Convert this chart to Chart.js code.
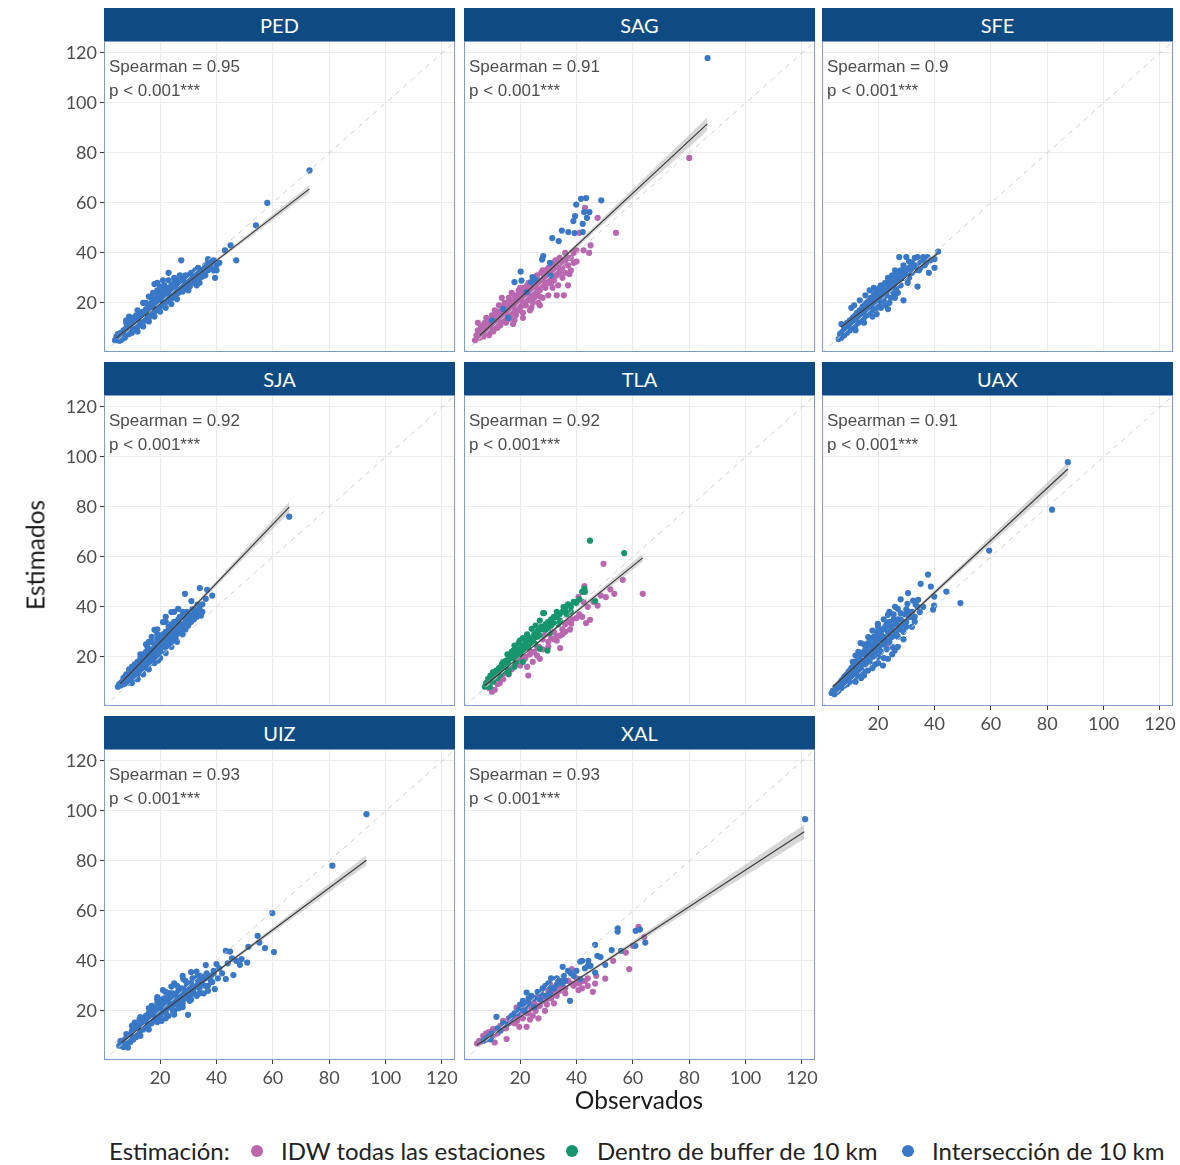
<!DOCTYPE html>
<html>
<head>
<meta charset="utf-8">
<title>Estimados vs Observados</title>
<script src="https://cdn.jsdelivr.net/npm/chart.js@4/dist/chart.umd.min.js"></script>
<style>
  body { margin:0; background:#fff; width:1180px; height:1165px; position:relative; overflow:hidden; font-family:Lato, sans-serif; }
  .strip { position:absolute; width:351px; height:33px; background:#0e4b82; color:#fff; font:20px Lato, sans-serif;
           display:flex; align-items:center; justify-content:center; }
  canvas { position:absolute; }
  .title { position:absolute; font:24.5px Lato, sans-serif; color:#1a1a1a; white-space:nowrap; }
  .leg { position:absolute; font:24px Lato, sans-serif; color:#222; white-space:nowrap; top:1136px; }
  .dot { position:absolute; width:12px; height:12px; border-radius:50%; top:1145px; }
</style>
</head>
<body>
<div id="root"></div>
<script>
// ---- shared labels and axis ticks ----
const stations = ['PED','SAG','SFE','SJA','TLA','UAX','UIZ','XAL'];
const spearman = ['0.95','0.91','0.9','0.92','0.92','0.91','0.93','0.93'];
const pLabel = 'p < 0.001***';
const tickValues = [20, 40, 60, 80, 100, 120];
const categories = ['IDW todas las estaciones', 'Dentro de buffer de 10 km', 'Intersección de 10 km'];
const catColors = ['#b968b0', '#17966e', '#3878c6'];
const identityLine = [[0, 0], [130, 130]];

// ---- observed / estimated pairs per station and estimation method ----
const pedIdw = [];
const pedBuffer = [];
const pedInter = [[4,5],[4.5,6.5],[5,5.5],[5,7.5],[5.5,4.8],[6,6],[6,8],[6.5,5.5],[6.5,7],[7,6.5],[7,9],[7.5,6],[7.5,8],[8,7],[8,10],[8,12],[8.5,8.5],[9,7.5],[9,9.5],[9,14.5],[9.5,11],[10,8],[10,10],[10,12.5],[10.5,9.5],[11,11],[11,13],[11.5,10],[11.5,15],[12,12],[12,14],[12.5,11],[12.5,16],[13,13],[13,15],[13.5,12],[14,14],[14,16.5],[14.5,13],[15,15],[15,17.5],[15.5,14],[16,16],[16,19],[16.5,15],[17,17],[17,20],[17.5,16],[17.5,24],[18,18],[18,21],[18,27.5],[18.5,17],[19,19],[19,22],[19,25],[19.5,18],[20,20],[20,23],[20,26.5],[20.5,19],[21,21],[21,24],[21.5,20],[21.5,27],[22,22],[22,25],[22.5,20.5],[23,23],[23,26],[23,29],[23,32],[23.5,21.5],[24,24],[24,27],[24.5,22],[25,25],[25,28],[25.5,23],[26,26],[26,29],[26.5,24],[27,27],[27,25],[27.5,37],[28,28],[28,26],[28.5,30],[29,27],[29,29.5],[29.5,25.5],[30,28],[30,31],[30.5,26.5],[31,29],[31,32],[32,30],[32,28],[32.5,33],[33,31],[33.5,34],[34,30],[34,28],[35,32],[35.5,33.5],[36,31],[36,35],[37,37.5],[37,33],[38,34],[39,33],[39.5,30],[40,35],[41,36],[43,41],[45,43],[47,37],[54,51],[58,60],[73,73],
  [5,6],[5.5,7],[6,5],[7,7],[8,8],[9,8.5],[9.5,9],[10,11],[10.5,11],[11,9.5],[11.5,12],[12,10.5],[12.5,13],[13,11.5],[13.5,14],[14,12.5],[14.5,15.5],[15,13.5],[15.5,16.5],[16,14],[16.5,17.5],[17,15.5],[17,18.5],[17.5,19],[18,16.5],[18.5,20],[19,17.5],[19.5,21],[20,18.5],[20.5,22],[21,19.5],[21.5,23],[22,20.5],[22.5,24],[23,21],[23.5,25],[24,22.5],[24.5,26],[25,23.5],[25.5,27],[26,24.5],[26.5,28],[27,26],[27.5,29],[28,24.5],[28.5,27],[29,31],[30,29.5],[31,30.5],[31.5,28],[32,31.5],[33,29],[33,33],[34,32.5],[35,30.5],[36,33],[37,36],[38,36],[39,37],[40,33],[21,29],[19,28],[16,22.5],[14,20],[12,17],
  [8,13],[10,14],[12,8.5],[14,10.5],[16,12.5],[18,14.5],[20,16.5],[22,18],[24,19.5],[15,20],[17,22],[19,23.5],[21,25.5],[25,30],[27,31],[30,25],[33,27],[26,21.5]];

const sagIdw = [[4,5],[4.5,7],[5,9],[5,12],[5.5,6],[6,8],[6.5,10],[7,6.5],[7,9],[7.5,12],[8,8],[8,14],[8.5,10],[9,7],[9,12],[9.5,9],[10,11],[10,15],[10.5,8.5],[11,13],[11,17],[11.5,10],[12,12],[12,15],[12.5,19],[13,11],[13,14],[13.5,22],[14,13],[14,17],[14.5,20],[15,15],[15,12],[15.5,18],[16,22],[16,16],[16.5,14],[17,19],[17,24],[17.5,11.5],[18,17],[18,21],[18.5,15],[19,20],[19,23],[19.5,17],[20,22],[20,18],[20,26],[20.5,20],[21,24],[21,16],[21.5,21],[22,23],[22,19],[22.5,27],[23,25],[23,21],[23.5,17],[24,24],[24,28],[24.5,20],[25,26],[25,22],[25.5,30],[26,27],[26,24],[26.5,20],[27,29],[27,25],[27.5,32],[28,27],[28,22],[28.5,30],[29,33],[29,26],[30,28],[30,31],[30,23],[31,35],[31,30],[31.5,26],[32,33],[32,29],[32.5,37],[33,31],[33,23],[33.5,27],[34,34],[34,38],[35,30],[35,36],[35.5,23],[36,40],[36,32],[37,35],[37,27],[37.5,31.5],[38,38],[38,33],[39,36],[39,40],[40,41],[40,36.5],[41,48],[42.5,41],[43,58],[44.5,40],[45,43],[47.5,54],[54,48],[80,78],
  [5,7],[6,6.5],[6,11],[7,8],[7.5,10],[8,9.5],[8.5,12.5],[9,10.5],[9.5,13],[10,9],[10,12.5],[11,11],[11,15],[12,13.5],[12,10],[12.5,16.5],[13,12.5],[13.5,15.5],[14,18.5],[14.5,14],[15,17],[15.5,20],[16,13.5],[16,18],[16.5,21],[17,16],[17.5,20],[18,23],[18,19],[18.5,17],[19,21.5],[19.5,25],[20,20],[20.5,23],[21,19],[21.5,26],[22,21],[22,25],[23,23],[23,28],[24,22],[24,26],[25,24],[25,29],[26,26],[26,31],[27,27],[27,22.5],[28,29],[28,33],[29,28],[29,31],[30,30],[30,34],[31,32],[32,31],[32,35],[33,33],[34,32],[35,34],[36,37],[37,38],[33,36],[31,28],[27,19],[24,18],[21,14],[18,13]];
const sagBuffer = [];
const sagInter = [[10,13],[14,17.5],[15.8,14],[18,28.3],[20.2,32.5],[20.5,28.9],[22.3,24.3],[23.9,28.3],[24.4,30.3],[25.4,29.3],[27.8,37.3],[28.2,38.7],[30.6,36],[30.8,30.9],[31.4,45.9],[33.7,44.7],[34.8,48.9],[37.1,48.3],[39.3,47.9],[38.9,52.7],[39.5,54.7],[39.9,59.3],[41.6,61.6],[43.4,61.9],[42.7,56.3],[44.6,56.3],[43.7,54],[42.2,51.6],[42.2,48.3],[48.8,61],[86.5,118]];

const sfeIdw = [[28,29.6]];
const sfeBuffer = [];
const sfeInter = [[6,5.5],[6.5,7.5],[7,6],[7,11.5],[7.5,8.5],[8,7],[8,10],[8.5,9],[9,8],[9,12],[9.5,10],[10,9],[10,13],[10.5,11],[10.5,18],[11,10],[11,14],[11.5,12],[11.5,19],[12,11],[12,15],[12.5,13],[13,12],[13,16],[13.5,14],[13.5,21],[14,13],[14,17],[14.5,15],[15,14],[15,18],[15.5,16],[15.5,23],[16,15],[16,20],[16.5,17],[17,16],[17,21],[17,25],[17.5,18],[18,17],[18,22],[18.5,20],[18.5,26],[19,19],[19,23],[19.5,18],[19.5,15.5],[20,21],[20,25],[20.5,20],[21,22],[21,27],[21.5,24],[22,21],[22,26],[22.5,19],[23,23],[23,28],[23.5,17.5],[24,25],[24,29.5],[24.5,22],[25,26],[25,31],[25.5,24],[26,28],[26,33],[26.5,26],[27,29],[27,24],[27.5,38.3],[28,30],[28,27],[28.5,32],[29,30],[29,21],[29.5,33],[30,31],[30,38.3],[30.5,28],[31,34],[31,30],[32,32],[32,36],[33,35],[33,38],[34,26.5],[34,38.3],[34.5,33],[35,36],[36,38.3],[36.5,35],[37.5,38.3],[38,32],[38.5,37],[40,34],[40,37.5],[41.3,40.5],
  [7,8],[8,8.5],[8.5,11],[9,9.5],[9.5,12],[10,10.5],[10.5,13],[11,12],[11.5,14.5],[12,13],[12.5,16],[13,14.5],[13.5,17],[14,15.5],[14.5,18.5],[15,16.5],[15.5,19.5],[16,17.5],[16.5,20.5],[17,19],[17.5,22],[18,19.5],[18.5,23.5],[19,21],[19.5,24.5],[20,22.5],[20.5,26],[21,24],[21.5,21.5],[22,24.5],[22.5,28],[23,25.5],[23.5,30],[24,27],[25,28.5],[26,30.5],[27,32],[28,33],[29,35],[30,33],[31,36.5],[32,34.5],[33,33],[35,34],[36,37],[37,36],[26,22],[24,20],[21,18],[18,14.5],[15,12],[12,9]];

const sjaIdw = [];
const sjaBuffer = [];
const sjaInter = [[5,8],[5.5,9],[6,8.5],[6.5,10],[7,9],[7,11.5],[7.5,10.5],[8,10],[8,13],[8.5,11.5],[8.5,9.5],[9,12],[9,15],[9.5,11],[9.5,13.5],[10,12.5],[10,16],[10.5,14],[10.5,11.5],[11,13],[11,17],[11.5,15],[11.9,11.2],[12,14],[12,18],[12.5,16],[13,15],[13,19.5],[13.5,17],[14,16],[14,21],[14.5,18],[15,17],[15,22],[15.5,19.5],[15.5,24],[16,18],[16,23],[16.5,21],[17,20],[17,26],[17.5,22],[18,21],[18,25],[18,30.8],[18.5,23],[19,22],[19,27],[19.3,18.5],[19.5,24.5],[20,23],[20,28],[20.4,27.9],[20.5,25.5],[21,24],[21,33.9],[21.5,27],[22,26],[22,30],[22.5,28],[23,27],[23,32],[23.5,29],[24,28],[24,37.9],[24.5,31],[25,30],[25,34],[25.5,27],[26,32],[26.4,39.2],[26.5,35],[27,30],[27.5,33],[28,36],[28,31],[28.8,45.2],[29,34],[29.5,38],[30,35],[30,32.5],[31,36],[31.1,42.3],[31.5,39],[32,37],[33,38],[33.3,40.9],[34.1,47.5],[34.5,36.5],[35,41],[36.2,43.2],[36.7,46.8],[38.5,44.5],[65.8,76.1],
  [6,9.5],[7,10],[7.5,12],[8,11],[9,10.5],[9,13.5],[10,11.5],[10,14],[11,14.5],[11,12],[12,15.5],[12,13],[13,14],[13,17],[14,18.5],[14,15],[15,16],[15,19.5],[16,21],[16,17],[17,18.5],[17,23],[18,20],[18,23],[19,21],[19,25],[20,22],[20,26],[21,25.5],[21,29],[22,24],[22,28],[23,25.5],[23,30],[24,26],[24,33],[25,28],[25,31],[26,29],[26,34],[27,32],[27,36],[28,33],[28,38],[29,31],[29,36],[30,37],[31,34],[32,35],[32,39],[33,36],[34,39],[35,38],[22,34],[19,29],[17,28],[15,25],
  [10,9.5],[12,11],[14,13],[16,15],[18,17.5],[20,19.5],[22,21.5],[24,24],[26,26],[13,21],[16,26],[19,31],[22,36],[25,38],[28,29]];

const tlaIdw = [[8,9.5],[10,6],[11,6.8],[12.8,9.5],[13,11.5],[14,13.2],[15,16],[16.4,20.5],[17,15],[19,17],[20,19],[21.7,19.2],[22.5,16],[22.9,12.5],[23.5,21],[24.5,18],[25,22],[26,24],[26.8,23.9],[27,19.2],[28,27],[29,29],[30,26],[31,27.5],[32,30],[33,26.5],[34.2,28.5],[34.2,23.5],[35,31],[36,33],[37.7,30.9],[38.1,33.2],[38.5,35],[39.5,41.9],[40.7,43.9],[41,37],[42,36],[42.5,41.9],[42.8,48.3],[43.4,33.5],[44.8,34.8],[47.5,40.5],[48.6,44.5],[49.6,57.2],[50.4,43.9],[53.4,45.2],[56.4,50.8],[63.5,45.2],
  [9,7.5],[12,9],[14,11],[16,13],[18,17],[20,16.5],[22,20],[24,22],[26,20.5],[28,23],[30,24],[32,27],[33,28.5],[35,29],[36,30],[37,34],[40,35.5],[44,40],[46,42],[52,47]];
const tlaBuffer = [[7.5,8],[8,9.5],[8.7,11.2],[9.3,7.9],[9.5,12.5],[10.4,13.9],[10.5,10],[11,12],[11.5,14.5],[12,11.5],[12.5,15.5],[13,13],[13.5,17],[14,17.9],[14,14.5],[14.5,16],[15,18.5],[15.5,21],[15.8,13.2],[16,17],[16.5,19.5],[17,22],[17.6,22.5],[18,20],[18,24.5],[18.5,18],[19,23],[19.5,25.5],[19.9,26.5],[20,21],[20.5,24],[21,27.5],[21.5,22.5],[22,26],[22.5,29],[23,24],[23.5,27.5],[24.1,31.2],[24.5,26.5],[25,29],[25.3,25.2],[25.5,32.5],[26,28],[26.5,30.5],[27,34.5],[27,23.2],[27.5,32],[28.2,37.5],[28.5,37.5],[29,31],[29.7,22.5],[30,34],[30.5,29.5],[31,32.5],[32,36],[33,35.9],[33.5,33],[34.2,34.5],[35,38],[35.4,39.9],[36,40],[36.5,37],[37,41],[38,40],[39,42],[40,41.5],[42.8,47.2],[43,46],[44.8,66.5],[46.6,42.3],[56.9,61.5],
  [9,10],[10,11.5],[11,13.5],[12,14],[13,15.5],[14,16],[15,17],[16,19],[17,19.5],[18,22],[19,20.5],[20,23],[21,24.5],[22,23.5],[23,27],[24,25.5],[25,27.5],[26,30],[27,28.5],[28,31],[29,33],[30,31.5],[31,35],[32,33.5],[33,38],[34,37],[36,38.5],[38,38],[41,43],[42,46],[21,18],[18,16],[16,14.5]];
const tlaInter = [];

const uaxIdw = [[22.9,24.5],[18.7,24]];
const uaxBuffer = [];
const uaxInter = [[3.5,5.5],[4,6.5],[4.5,5],[5,6],[5,8],[5.5,7],[6,6.5],[6,9],[6.5,8],[7,7.5],[7,10.5],[7.5,9],[8,8.5],[8,12],[8.5,10],[9,9],[9,13],[9.5,11],[10,10],[10,14.5],[10.5,12],[11,11],[11,16],[11.5,13],[12,12],[12,18],[12.5,14.5],[13,13],[13,20],[13.5,16],[13.8,25.5],[14,11.5],[14,15],[14.5,18],[15,22],[15,14],[15.5,17],[16,19],[16,24],[16.4,14.5],[16.5,27.9],[17,18],[17,21],[17.5,25],[18,20],[18,23],[18.5,28],[19,17],[19,22],[19,26],[19.5,30],[19.9,33.2],[20,20],[20,24],[20.5,27],[21,22],[21,29],[21.7,16.5],[22,25],[22,31],[22.5,27],[23,23],[23,33],[23.5,19.2],[23.5,36.8],[24,26],[24,29],[24.5,32],[25,28],[25,24],[25.5,35],[25.9,22.5],[26,30],[26.5,33],[27,39.2],[27,28],[27.5,31],[28,35],[28.5,33],[29,30],[29.5,37],[30,34],[30.4,41.2],[30.6,45.5],[31,38],[31.8,35.9],[32,32],[32.4,42.5],[33,36],[33.3,40.9],[34.2,42.8],[34.8,37.9],[35.1,49.2],[36,40],[37.7,52.9],[38.7,48.1],[39.5,38.9],[39.9,40.5],[39.9,44.1],[44.2,46.1],[49.2,41.5],[59.4,62.5],[81.7,78.9],[87.3,97.9],
  [4,5.5],[5,7],[5.5,6],[6,7.5],[6.5,9.5],[7,8.5],[7.5,11],[8,9.5],[8.5,12.5],[9,10.5],[9.5,14],[10,12],[10.5,15.5],[11,13],[11.5,16.5],[12,14],[12.5,17.5],[13,15],[13.5,19],[14,17],[14.5,21],[15,17.5],[15.5,23],[16,20.5],[16.5,25.5],[17,22],[17.5,27.5],[18,24.5],[18.5,22],[19,28],[19.5,25],[20,29],[20.5,24],[21,31],[21.5,27],[22,28],[22.5,32],[23,26],[23.5,30],[24,34],[24.5,28],[25,31],[25.5,37],[26,33],[26.5,29],[27,35],[28,31.5],[28,37.5],[29,34],[30,32],[30,39],[31,36],[32,38],[33,34],[34,40],[13,22],[12,20.5],[11,18],[15,25],[18,30.5],[20,32],[22,35],[24,38],[26,40],[28,43],[12,10],[15,12.5],[18,15.5],[20,17.5],[22,19.5],[25,21],[27,24],[29,27]];

const uizIdw = [];
const uizBuffer = [];
const uizInter = [[5.5,6],[6,7.5],[6.2,6.3],[6.8,7.6],[7,5.5],[7.5,8.5],[8,10.7],[8,7],[8.6,5.3],[9,9],[9.5,7.5],[10,10],[10,12],[10.5,8.5],[11,15.3],[11,11],[11.5,9.5],[12,13],[12.5,11],[12.7,16.7],[13,12],[13.5,14],[14,12.5],[14,16],[14.5,15],[15,13.5],[15,18],[15.5,16],[16,14.5],[16,19],[16.5,17],[16.9,20.7],[17,15],[17.5,18],[18,16.5],[18,21],[18.5,19],[19,17],[19,23],[19.5,20],[20,18],[20,22],[20.4,24.5],[20.5,16],[21,28.3],[21,20],[21.5,23],[22,19],[22,25],[22.5,21],[23,18],[23,24],[23.5,27],[24,29.7],[24,22],[24.5,20],[25,25],[25,18.5],[25.5,23],[26,27],[26.5,21],[27,25],[27.5,29],[28,23],[28.2,32.7],[28.5,27],[29,25],[29.5,30],[29.9,18.4],[30,28],[30.5,24],[31,31],[31.5,27],[32,29],[32.5,33],[32.9,35.7],[33,26],[33.5,31],[34,29],[34.5,34],[35,31],[35.5,27],[36,33],[36.2,38.3],[36.5,35],[37,30],[38,34],[38.5,31.5],[39,36],[39.4,28.7],[40,38.7],[40.5,33],[41,37],[42,35],[43.3,44],[43.3,32.7],[44,39],[44.8,43.7],[45.5,41],[46,34.3],[47,40],[48.3,38.4],[48.9,40.7],[50.9,39.3],[51.3,45.6],[54.6,50],[55.2,47.3],[57.2,45.1],[59.8,59.1],[60.4,43.5],[81.1,78.1],[93.2,98.7],
  [6,8],[7,7],[7.5,6],[8,9],[8.5,8],[9,10.5],[9.5,9],[10,11],[10.5,10],[11,12.5],[11.5,11],[12,14],[12.5,12.5],[13,15],[13.5,13],[14,17],[14.5,14],[15,16.5],[15.5,14.5],[16,18],[16.5,16],[17,19.5],[17.5,17],[18,20],[18.5,17.5],[19,21],[19.5,18.5],[20,23],[20.5,19.5],[21,22],[21.5,25],[22,20.5],[22.5,24],[23,22],[23.5,25.5],[24,23.5],[24.5,27],[25,22.5],[25.5,26],[26,24],[26.5,28],[27,22.5],[27.5,26.5],[28,28],[28.5,25],[29,29],[29.5,27],[30,31],[30.5,26],[31,29],[31.5,33],[32,27],[33,30],[33.5,34],[34,31.5],[35,33],[36,30],[37,34],[38,32],[39,35],[17,22],[19,24.5],[23,27],[26,30],[29,32],
  [10,14],[13,17.5],[16,21],[19,25.5],[22,27.5],[25,31],[28,34],[31,35.5],[13,10],[16,12.5],[19,15.5],[22,17],[25,20],[28,21.5],[31,24.5],[34,27],[37,28]];

const xalIdw = [[4.7,6.9],[5.5,8],[6.9,10],[7.5,8.5],[8,11],[9,9.5],[10.4,12.7],[11,7.3],[11,10.5],[12,12],[13,14],[14,16],[15.2,8.7],[15,13],[16,15],[17,17.5],[18,15],[18.7,21.3],[19,18],[19.7,13.6],[20,20],[21,17],[21.5,22],[22.3,13.6],[22.5,19],[23,24],[23.5,16.5],[24,21],[24.5,18],[25,23],[25.5,20],[26,25.5],[26.5,17],[27,22],[27.5,27],[28,24],[28.8,20],[29,26],[29.5,22.5],[30,28],[30.6,30.7],[31,25],[31.5,27],[32,23],[32.5,29.5],[33,26],[33.5,31],[34,28],[35,30],[36,27],[37,32],[38.3,36.7],[39,30],[40,33],[40.7,28.3],[41,31],[42,29],[43,32],[44,30],[45.8,27.6],[46.6,30.9],[47,34],[50.2,32.9],[53,40],[57.5,43.3],[58.7,36.7],[60,46],[62,53.6],[64,49.5],
  [6,7.5],[8,8.5],[9,11.5],[10,10],[12,11],[13,12.5],[14,13],[16,17],[17,15.5],[18,18],[19,16],[20,17.5],[21,20],[22,21.5],[23,19],[24,23],[25,21],[26,22],[27,25],[28,26],[29,24],[30,25],[31,29],[32,28],[33,28],[34,30],[35,32],[36,29],[38,31],[40,31],[42,32],[44,33]];
const xalBuffer = [];
const xalInter = [[7,8],[8,9],[9.5,8.5],[10,11],[11.6,17.6],[13,12],[15,14.5],[16.5,17],[18,19],[19.5,20.5],[20,22.5],[21,24],[21.5,20],[22.3,27.3],[23,23],[24,26],[25,21.5],[26.2,27.6],[27,24.5],[28,29],[29,26],[30,31],[30.5,27],[31,33],[32,29],[33,30.5],[34,32],[35.1,37.6],[35.5,34],[36,32],[37.7,24],[38,35],[39,34],[41.3,32.7],[41.3,39.7],[43,37],[44.2,40],[45,38],[46.6,35.3],[46.6,46.4],[47.4,42],[48.5,41.5],[50.2,38.4],[52.5,44.3],[54.6,51.7],[54.6,53],[55.8,44],[60.9,46],[61,52],[62.5,52.5],[64.4,47.3],[121.1,96.7],
  [9,10],[12,13],[14,15],[17,18],[19,19],[22,22],[23,25],[25,25],[27,27],[29,30],[31,29],[33,33],[35,31],[37,36],[40,36],[42,40],[44,38]];

// ---- linear fit (start, end) and its confidence band (x, lower, upper) ----
const pedFit = [[4.4,6.0],[73,65.6]];
const pedBand = [[4.4,5.3,6.7],[22,21.0,21.6],[73,64.1,67.1]];
const sagFit = [[5.7,6.9],[86.4,91.6]];
const sagBand = [[5.7,5.9,7.9],[22,23.5,24.5],[86.4,88.9,94.3]];
const sfeFit = [[6.9,10.3],[41,39.6]];
const sfeBand = [[6.9,9.6,11.0],[20,21.2,21.9],[41,38.8,40.4]];
const sjaFit = [[5.9,9.2],[65.8,79.9]];
const sjaBand = [[5.9,8.5,9.9],[18,23.2,23.8],[65.8,77.8,82.0]];
const tlaFit = [[7.5,8.5],[63.5,59.6]];
const tlaBand = [[7.5,7.4,9.6],[25,24.1,24.9],[63.5,58.0,61.2]];
const uaxFit = [[3.9,7.9],[87.3,95.2]];
const uaxBand = [[3.9,7.1,8.7],[18,22.3,23.0],[87.3,92.7,97.7]];
const uizFit = [[6.2,7.3],[93.2,80.3]];
const uizBand = [[6.2,6.6,8.0],[25,22.8,23.4],[93.2,78.3,82.3]];
const xalFit = [[4.7,6.3],[120.8,91.7]];
const xalBand = [[4.7,5.3,7.3],[28,23.0,23.8],[120.8,88.9,94.5]];

const pointsByStation = {
  PED: [pedIdw, pedBuffer, pedInter], SAG: [sagIdw, sagBuffer, sagInter],
  SFE: [sfeIdw, sfeBuffer, sfeInter], SJA: [sjaIdw, sjaBuffer, sjaInter],
  TLA: [tlaIdw, tlaBuffer, tlaInter], UAX: [uaxIdw, uaxBuffer, uaxInter],
  UIZ: [uizIdw, uizBuffer, uizInter], XAL: [xalIdw, xalBuffer, xalInter]
};
const fitByStation = { PED: pedFit, SAG: sagFit, SFE: sfeFit, SJA: sjaFit, TLA: tlaFit, UAX: uaxFit, UIZ: uizFit, XAL: xalFit };
const bandByStation = { PED: pedBand, SAG: sagBand, SFE: sfeBand, SJA: sjaBand, TLA: tlaBand, UAX: uaxBand, UIZ: uizBand, XAL: xalBand };

// ---- facet layout ----
const colLeft = [104, 464, 822];
const rowTop = [41, 395, 749];
const panelW = 351, panelH = 311, stripH = 33, yAxisW = 60, xAxisH = 36, rightPad = 20;
const xRange = [0.1, 124.6], yRange = [0.3, 124.8];
const xLabelled = ['UAX', 'UIZ', 'XAL'];

const root = document.getElementById('root');
const toXY = p => ({ x: p[0], y: p[1] });

const panelDecor = {
  id: 'panelDecor',
  afterDatasetsDraw(chart, args, opts) {
    const { ctx, chartArea: a } = chart;
    ctx.save();
    ctx.strokeStyle = '#7f9dcb';
    ctx.lineWidth = 1;
    ctx.strokeRect(a.left + 0.5, a.top + 0.5, a.right - a.left - 1, a.bottom - a.top - 1);
    ctx.fillStyle = '#4d4d4d';
    ctx.font = '17px "Liberation Sans", Arial, sans-serif';
    ctx.textBaseline = 'middle';
    ctx.textAlign = 'left';
    ctx.fillText('Spearman = ' + opts.rho, a.left + 5, a.top + 26);
    ctx.fillText(pLabel, a.left + 5, a.top + 50);
    ctx.restore();
  }
};

function fixedAxis(size, isX) {
  return function (s) {
    if (isX) s.height = size; else s.width = size;
    s.paddingLeft = 0; s.paddingRight = 0; s.paddingTop = 0; s.paddingBottom = 0;
  };
}
function setTicks(s) { s.ticks = tickValues.map(v => ({ value: v })); }

stations.forEach((key, i) => {
  const col = i % 3, row = Math.floor(i / 3);
  const left = colLeft[col], top = rowTop[row];

  const strip = document.createElement('div');
  strip.className = 'strip';
  strip.style.left = left + 'px';
  strip.style.top = (top - stripH) + 'px';
  strip.textContent = key;
  root.appendChild(strip);

  const cv = document.createElement('canvas');
  cv.width = panelW + yAxisW + rightPad; cv.height = panelH + xAxisH;
  cv.style.left = (left - yAxisW) + 'px';
  cv.style.top = top + 'px';
  root.appendChild(cv);

  const showY = col === 0, showX = xLabelled.includes(key);
  const [idw, buf, inter] = pointsByStation[key];
  const band = bandByStation[key];

  const pointSet = (data, color, order) => ({
    type: 'scatter', data: data.map(toXY), backgroundColor: color, borderColor: color,
    pointRadius: 3.1, borderWidth: 0, order
  });

  new Chart(cv, {
    type: 'scatter',
    data: {
      datasets: [
        { type: 'line', data: identityLine.map(toXY), borderColor: '#cfcfcf', borderWidth: 1,
          borderDash: [5, 5], pointRadius: 0, showLine: true, fill: false, order: 1 },
        { type: 'line', data: fitByStation[key].map(toXY), borderColor: '#3c3c3c', borderWidth: 1.2,
          pointRadius: 0, showLine: true, fill: false, order: 2 },
        { type: 'line', data: band.map(b => ({ x: b[0], y: b[2] })), borderColor: 'rgba(0,0,0,0)',
          borderWidth: 0, pointRadius: 0, showLine: true, fill: '+1',
          backgroundColor: 'rgba(150,150,150,0.38)', tension: 0.4, order: 3 },
        { type: 'line', data: band.map(b => ({ x: b[0], y: b[1] })), borderColor: 'rgba(0,0,0,0)',
          borderWidth: 0, pointRadius: 0, showLine: true, fill: false, tension: 0.4, order: 3 },
        pointSet(idw, catColors[0], 6),
        pointSet(buf, catColors[1], 5),
        pointSet(inter, catColors[2], 4)
      ]
    },
    options: {
      responsive: false, animation: false, events: [],
      layout: { padding: { left: 0, top: 0, bottom: 0, right: rightPad }, autoPadding: false },
      plugins: { legend: { display: false }, tooltip: { enabled: false }, panelDecor: { rho: spearman[i] } },
      scales: {
        x: {
          type: 'linear', min: xRange[0], max: xRange[1],
          afterBuildTicks: setTicks, afterFit: fixedAxis(xAxisH, true),
          border: { display: false },
          grid: { color: '#ebebeb', lineWidth: 1.1, drawTicks: true, tickLength: 4,
                  tickColor: showX ? '#333333' : 'rgba(0,0,0,0)', tickWidth: 1 },
          ticks: { display: showX, color: '#4d4d4d', font: { family: 'Lato', size: 18 }, padding: 3,
                   maxRotation: 0, autoSkip: false }
        },
        y: {
          type: 'linear', min: yRange[0], max: yRange[1],
          afterBuildTicks: setTicks, afterFit: fixedAxis(yAxisW, false),
          border: { display: false },
          grid: { color: '#ebebeb', lineWidth: 1.1, drawTicks: true, tickLength: 4,
                  tickColor: showY ? '#333333' : 'rgba(0,0,0,0)', tickWidth: 1 },
          ticks: { display: showY, color: '#4d4d4d', font: { family: 'Lato', size: 18 }, padding: 3,
                   autoSkip: false }
        }
      }
    },
    plugins: [panelDecor]
  });
});

// ---- axis titles ----
const yTitle = document.createElement('div');
yTitle.className = 'title';
yTitle.textContent = 'Estimados';
yTitle.style.left = '35px'; yTitle.style.top = '555px';
yTitle.style.transform = 'translate(-50%,-50%) rotate(-90deg)';
root.appendChild(yTitle);

const xTitle = document.createElement('div');
xTitle.className = 'title';
xTitle.textContent = 'Observados';
xTitle.style.left = '639px'; xTitle.style.top = '1099px';
xTitle.style.transform = 'translate(-50%,-50%)';
root.appendChild(xTitle);

// ---- legend ----
const legLabel = document.createElement('div');
legLabel.className = 'leg';
legLabel.textContent = 'Estimación:';
legLabel.style.left = '109px';
root.appendChild(legLabel);
const dotX = [257, 572, 908], textX = [281, 597, 932];
categories.forEach((c, k) => {
  const d = document.createElement('div');
  d.className = 'dot';
  d.style.left = (dotX[k] - 6) + 'px';
  d.style.background = catColors[k];
  root.appendChild(d);
  const t = document.createElement('div');
  t.className = 'leg';
  t.textContent = c;
  t.style.left = textX[k] + 'px';
  root.appendChild(t);
});
</script>
</body>
</html>
